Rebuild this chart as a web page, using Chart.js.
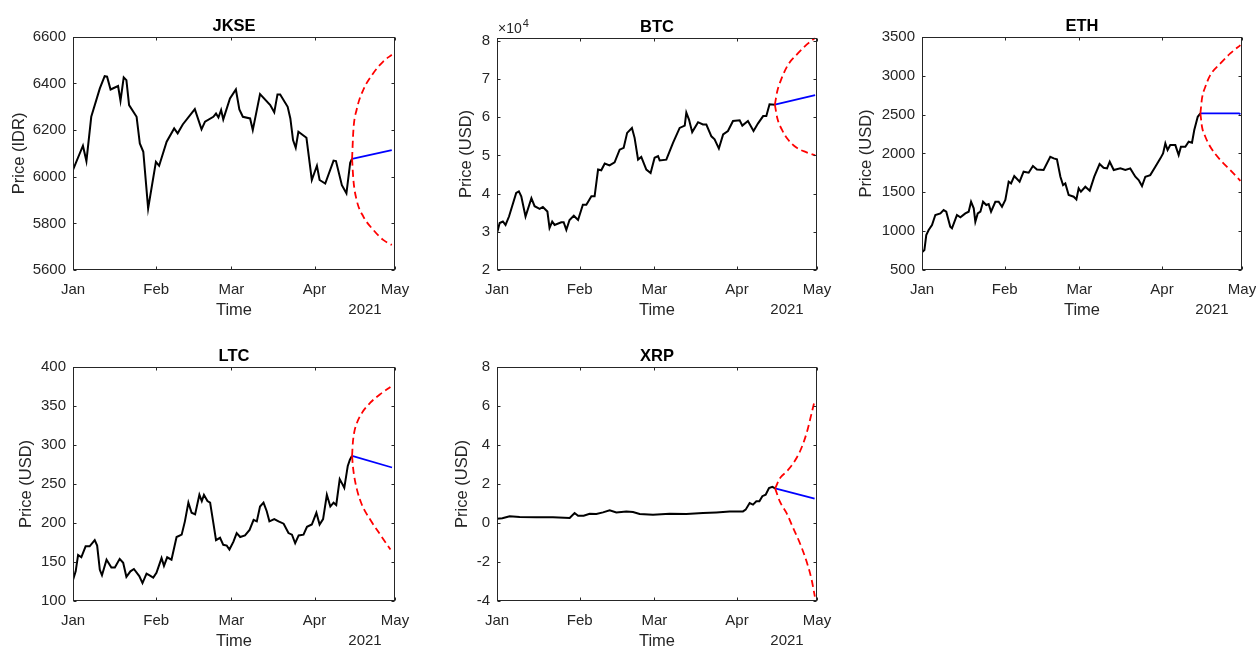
<!DOCTYPE html>
<html>
<head>
<meta charset="utf-8">
<title>Price forecast 2021</title>
<script src="https://cdn.jsdelivr.net/npm/chart.js@4.4.1/dist/chart.umd.min.js"></script>
<style>
  html, body { margin: 0; padding: 0; background: #fff; overflow: hidden; }
  #fig { position: relative; width: 1256px; height: 646px; overflow: hidden; background: #fff; }
  #fig canvas { position: absolute; }
</style>
</head>
<body>
<div id="fig">
  <canvas id="cJkse"></canvas>
  <canvas id="cBtc"></canvas>
  <canvas id="cEth"></canvas>
  <canvas id="cLtc"></canvas>
  <canvas id="cXrp"></canvas>
</div>
<script>
// eje de tiempo: dias desde el 1 de enero de 2021
const monthDays = [0, 31, 59, 90, 120];
const monthLabels = ['Jan', 'Feb', 'Mar', 'Apr', 'May'];

// JKSE
const jkseDays = [0, 3.7, 5, 6.8, 10, 11.8, 12.7, 14, 16.8, 17.7, 18.9, 19.9, 20.9, 23.7, 24.9, 26.2, 28, 30.9, 32.1, 34.9, 37.7, 39, 40.9, 45.4, 47.9, 49.2, 52.3, 53.3, 54.2, 55.2, 56, 58.5, 60.7, 62, 63.3, 66, 67, 69.7, 73.5, 75, 76.2, 77.2, 80, 81, 82, 83, 84, 87, 89, 90.9, 91.9, 94, 97.1, 98, 100.2, 101.9, 103.3, 104];
const jksePrice = [6029, 6133, 6067, 6257, 6379, 6431, 6429, 6374, 6389, 6326, 6426, 6414, 6307, 6257, 6143, 6107, 5864, 6064, 6047, 6150, 6207, 6186, 6224, 6290, 6203, 6236, 6257, 6271, 6254, 6286, 6246, 6336, 6374, 6289, 6257, 6250, 6200, 6354, 6307, 6276, 6353, 6353, 6300, 6250, 6157, 6124, 6193, 6167, 5986, 6047, 5986, 5971, 6069, 6067, 5964, 5929, 6060, 6077];
const jkseFcDays = [104, 104.5, 105.7, 108.2, 111.9, 115.6, 118.8];
const jkseUpper = [6077, 6201, 6287, 6373, 6444, 6494, 6523];
const jkseLower = [6077, 5986, 5900, 5829, 5772, 5729, 5707];
const jkseMeanDays = [104, 118.8];
const jkseMean = [6077, 6114];
const jkseTicks = [5600, 5800, 6000, 6200, 6400, 6600];

// BTC
const btcDays = [0, 1, 2.2, 3.2, 4.5, 7.2, 8.2, 9.1, 10.7, 12.9, 14.1, 16, 17.2, 18.9, 19.7, 20.7, 21.6, 24.1, 25, 26, 27.2, 28.8, 30.4, 32.2, 33.5, 35.4, 36.6, 37.9, 39.1, 40.4, 42.2, 44.1, 46, 47.5, 48.8, 50.6, 51.6, 52.9, 54.1, 56, 57.6, 59.1, 60.4, 61, 63.5, 66, 68.5, 70.4, 71, 72, 73.2, 75.4, 77.2, 78.5, 80.4, 81.6, 83.2, 84.8, 86.6, 88.5, 91, 92, 94.1, 96.2, 97.9, 99.8, 101, 102.2, 104.2];
const btcPrice = [29600, 32300, 32700, 31800, 34000, 40200, 40600, 39300, 34000, 38800, 36700, 36000, 36500, 35300, 31000, 32700, 31800, 32500, 32500, 30500, 33100, 34200, 33100, 37100, 37100, 39300, 39300, 46300, 46100, 47900, 47400, 48200, 51500, 52000, 55900, 57200, 54600, 48900, 49600, 46300, 45400, 49400, 49800, 48700, 48900, 53300, 57200, 57800, 61200, 59400, 56100, 58700, 58100, 58100, 55000, 54200, 51800, 55500, 56400, 59000, 59200, 57800, 59000, 56400, 58400, 60300, 60300, 63400, 63300];
const btcFcDays = [104.2, 105.1, 106.8, 109.2, 112.4, 116.1, 119.3];
const btcUpper = [63300, 66800, 70300, 73800, 76400, 79000, 80800];
const btcLower = [63300, 59800, 56800, 54100, 52000, 50800, 50000];
const btcMeanDays = [104.2, 119.3];
const btcMean = [63300, 65800];
const btcTicks = [20000, 30000, 40000, 50000, 60000, 70000, 80000];

// ETH
const ethDays = [0, 0.9, 1.6, 2.5, 3.75, 5, 6.9, 8.1, 9.1, 10.6, 11.25, 13.1, 14.4, 16.25, 17.5, 18.4, 19.4, 20, 20.9, 21.9, 22.9, 24.1, 25, 25.9, 27.5, 28.75, 30, 31.25, 32.5, 33.4, 34.6, 36.6, 38.1, 40, 41.6, 43.1, 45.6, 48.1, 49.4, 50.6, 51.9, 52.9, 53.75, 55, 56.9, 57.9, 58.75, 59.6, 61.25, 62.9, 64.6, 66.6, 68.1, 69.4, 70.4, 71.9, 74.4, 76.25, 78.1, 80, 81.25, 82.5, 83.75, 85.6, 87.5, 89.4, 90.4, 91.25, 92.1, 93.1, 95, 96.25, 97.1, 98.75, 100, 101.25, 102.1, 103.4, 104.4];
const ethPrice = [727, 757, 950, 1014, 1079, 1207, 1228, 1271, 1250, 1057, 1036, 1207, 1177, 1228, 1250, 1378, 1293, 1121, 1228, 1250, 1378, 1336, 1348, 1250, 1378, 1378, 1314, 1400, 1636, 1614, 1708, 1636, 1764, 1751, 1837, 1794, 1786, 1957, 1936, 1923, 1700, 1593, 1614, 1464, 1443, 1408, 1550, 1507, 1571, 1521, 1700, 1863, 1816, 1807, 1893, 1786, 1807, 1786, 1807, 1700, 1657, 1580, 1700, 1721, 1829, 1936, 2000, 2129, 2043, 2107, 2107, 1979, 2086, 2086, 2150, 2137, 2300, 2471, 2514];
const ethFcDays = [104.4, 105, 106.25, 108.1, 111.9, 115.6, 119.4];
const ethUpper = [2514, 2707, 2857, 3007, 3157, 3286, 3393];
const ethLower = [2514, 2343, 2214, 2086, 1914, 1786, 1648];
const ethMeanDays = [104.4, 118.9, 119.4];
const ethMean = [2514, 2514, 2503];
const ethTicks = [500, 1000, 1500, 2000, 2500, 3000, 3500];

// LTC
const ltcDays = [0, 1, 1.9, 3.1, 4.7, 6.2, 8.1, 9, 10, 10.8, 12.5, 14.3, 15.6, 17.4, 18.7, 19.9, 21.4, 22.7, 24.7, 25.9, 27.4, 28.4, 29.9, 31.1, 33, 33.9, 35.1, 36.7, 38.6, 40.5, 41.7, 43, 44.2, 45.5, 47.1, 48, 48.8, 50.1, 51.1, 52.3, 53.3, 54.8, 56, 57.3, 58.3, 59.8, 61, 62.3, 64.1, 65.8, 67.3, 68.5, 69.7, 71, 72.2, 73.2, 75, 76.6, 78.5, 80.3, 81.6, 82.8, 84.1, 85.9, 87.2, 89, 90.7, 91.9, 93.2, 94.6, 95.9, 97.1, 98.1, 99.4, 100.2, 101.1, 102.4, 103.2, 104];
const ltcPrice = [127, 138, 159, 156, 170, 170, 178, 171, 140, 133, 153, 143, 143, 154, 149, 131, 138, 141, 132, 123, 135, 133, 130, 136, 155, 145, 156, 153, 182, 185, 202, 226, 213, 211, 236, 228, 236, 228, 226, 200, 178, 181, 172, 171, 166, 176, 187, 182, 184, 191, 204, 202, 221, 226, 215, 202, 205, 202, 199, 187, 185, 174, 184, 185, 195, 198, 213, 198, 205, 236, 221, 226, 223, 256, 251, 245, 273, 281, 286];
const ltcFcDays = [104, 104.3, 104.8, 105.8, 107.7, 110.8, 114.5, 118.3];
const ltcUpper = [286, 303, 316, 328, 341, 354, 365, 374];
const ltcLower = [286, 273, 260, 243, 223, 204, 185, 166];
const ltcMeanDays = [104, 118.9];
const ltcMean = [286, 271];
const ltcTicks = [100, 150, 200, 250, 300, 350, 400];

// XRP
const xrpDays = [0, 2, 4.75, 8.5, 14.75, 21, 27.25, 29.1, 30.4, 32.5, 34.75, 37.25, 39.75, 42.25, 44.75, 48.5, 51, 53.5, 58.5, 64.75, 71, 77.25, 82.25, 87.25, 92.25, 93.25, 94.75, 96, 97.25, 98.4, 99.5, 100.75, 102, 103.25, 104.3];
const xrpPrice = [0.22, 0.24, 0.34, 0.30, 0.29, 0.29, 0.25, 0.51, 0.37, 0.37, 0.47, 0.46, 0.54, 0.65, 0.54, 0.58, 0.56, 0.46, 0.42, 0.47, 0.46, 0.51, 0.54, 0.58, 0.59, 0.68, 1.02, 0.94, 1.11, 1.11, 1.37, 1.45, 1.79, 1.85, 1.77];
const xrpFcDays = [104.3, 106.1, 108.6, 111.1, 113.6, 116.1, 118, 119.2];
const xrpUpper = [1.77, 2.29, 2.63, 3.06, 3.66, 4.60, 5.63, 6.31];
const xrpLower = [1.77, 1.09, 0.50, -0.27, -1.04, -1.98, -2.92, -3.78];
const xrpMeanDays = [104.3, 119.1];
const xrpMean = [1.77, 1.25];
const xrpTicks = [-4, -2, 0, 2, 4, 6, 8];

const FONT = "'Liberation Sans', Arial, Helvetica, sans-serif";
Chart.defaults.font.family = FONT;
Chart.defaults.color = '#262626';

// caja estilo MATLAB, marcas hacia adentro, año y exponente
const matlabAxes = {
  id: 'matlabAxes',
  afterDraw(chart, args, opts) {
    const { ctx, chartArea: a, scales: { x, y } } = chart;
    const L = Math.round(a.left) + 0.5, R = Math.round(a.right) - 0.5;
    const T = Math.round(a.top) + 0.5, B = Math.round(a.bottom) - 0.5;
    ctx.save();
    ctx.strokeStyle = '#262626';
    ctx.lineWidth = 1;
    ctx.strokeRect(L, T, R - L, B - T);
    ctx.beginPath();
    x.ticks.forEach(t => {
      const px = Math.round(x.getPixelForValue(t.value)) + 0.5;
      ctx.moveTo(px, B); ctx.lineTo(px, B - 3);
      ctx.moveTo(px, T); ctx.lineTo(px, T + 3);
    });
    y.ticks.forEach(t => {
      const py = Math.round(y.getPixelForValue(t.value)) + 0.5;
      ctx.moveTo(L, py); ctx.lineTo(L + 3, py);
      ctx.moveTo(R, py); ctx.lineTo(R - 3, py);
    });
    ctx.stroke();

    ctx.fillStyle = '#262626';
    ctx.textAlign = 'center';
    ctx.textBaseline = 'middle';
    ctx.font = '15px ' + FONT;
    ctx.fillText(opts.year, a.right - 30, x.bottom - 10);

    if (opts.exponent) {
      ctx.textAlign = 'left';
      ctx.textBaseline = 'alphabetic';
      ctx.font = '14px ' + FONT;
      ctx.fillText('\u00d710', a.left + 1, a.top - 5);
      const w = ctx.measureText('\u00d710').width;
      ctx.font = '11px ' + FONT;
      ctx.fillText(opts.exponent, a.left + 1 + w + 1, a.top - 11);
    }
    ctx.restore();
  }
};

function pts(xs, ys) {
  return xs.map((v, i) => ({ x: v, y: ys[i] }));
}

function crearSubplot(id, pos, s) {
  const cv = document.getElementById(id);
  const padL = 75, padT = 37, padB = 50, padR = 30;
  cv.width = pos.w + padL + padR;
  cv.height = pos.h + padT + padB;
  cv.style.left = (pos.x - padL) + 'px';
  cv.style.top = (pos.y - padT) + 'px';

  return new Chart(cv, {
    type: 'line',
    data: {
      datasets: [
        { data: pts(s.fcDays, s.upper), borderColor: '#ff0000', borderDash: [7, 4], cubicInterpolationMode: 'monotone' },
        { data: pts(s.fcDays, s.lower), borderColor: '#ff0000', borderDash: [7, 4], cubicInterpolationMode: 'monotone' },
        { data: pts(s.meanDays, s.mean), borderColor: '#0000ff' },
        { data: pts(s.days, s.price), borderColor: '#000000', borderWidth: 2 }
      ]
    },
    options: {
      responsive: false,
      animation: false,
      elements: {
        point: { radius: 0 },
        line: { borderWidth: 1.8, tension: 0, fill: false }
      },
      layout: { padding: { left: 0, top: 0, right: padR, bottom: 0 } },
      plugins: {
        legend: { display: false },
        tooltip: { enabled: false },
        title: {
          display: true,
          text: s.title,
          fullSize: false,
          color: '#000000',
          font: { size: 16.5, weight: 'bold' },
          padding: { top: padT - 20, bottom: 0 }
        },
        matlabAxes: { year: '2021', exponent: s.exponent }
      },
      scales: {
        x: {
          type: 'linear',
          min: monthDays[0],
          max: monthDays[monthDays.length - 1],
          afterBuildTicks: sc => { sc.ticks = monthDays.map(v => ({ value: v })); },
          afterFit: sc => { sc.height = padB; },
          grid: { display: false, drawTicks: false },
          border: { display: false },
          ticks: {
            padding: 11,
            maxRotation: 0,
            autoSkip: false,
            font: { size: 15 },
            callback: v => monthLabels[monthDays.indexOf(v)]
          },
          title: { display: true, text: 'Time', font: { size: 16.5 }, padding: 0 }
        },
        y: {
          min: s.ticks[0],
          max: s.yMax,
          afterBuildTicks: sc => { sc.ticks = s.ticks.map(v => ({ value: v })); },
          afterFit: sc => { sc.width = padL; },
          grid: { display: false, drawTicks: false },
          border: { display: false },
          ticks: {
            padding: 7,
            font: { size: 15 },
            callback: v => String(s.scale ? v / s.scale : v)
          },
          title: {
            display: true,
            text: s.ylabel,
            font: { size: 16.5 },
            padding: { top: s.labelPad, bottom: 0 }
          }
        }
      }
    },
    plugins: [matlabAxes]
  });
}

crearSubplot('cJkse', { x: 73, y: 37, w: 322, h: 233 }, {
  title: 'JKSE', ylabel: 'Price (IDR)', labelPad: 12,
  days: jkseDays, price: jksePrice, fcDays: jkseFcDays, upper: jkseUpper, lower: jkseLower,
  meanDays: jkseMeanDays, mean: jkseMean, ticks: jkseTicks, yMax: 6600
});
crearSubplot('cBtc', { x: 497, y: 38, w: 320, h: 232 }, {
  title: 'BTC', ylabel: 'Price (USD)', labelPad: 35, exponent: '4', scale: 10000,
  days: btcDays, price: btcPrice, fcDays: btcFcDays, upper: btcUpper, lower: btcLower,
  meanDays: btcMeanDays, mean: btcMean, ticks: btcTicks, yMax: 80800
});
crearSubplot('cEth', { x: 922, y: 37, w: 320, h: 233 }, {
  title: 'ETH', ylabel: 'Price (USD)', labelPad: 10,
  days: ethDays, price: ethPrice, fcDays: ethFcDays, upper: ethUpper, lower: ethLower,
  meanDays: ethMeanDays, mean: ethMean, ticks: ethTicks, yMax: 3500
});
crearSubplot('cLtc', { x: 73, y: 367, w: 322, h: 234 }, {
  title: 'LTC', ylabel: 'Price (USD)', labelPad: 19,
  days: ltcDays, price: ltcPrice, fcDays: ltcFcDays, upper: ltcUpper, lower: ltcLower,
  meanDays: ltcMeanDays, mean: ltcMean, ticks: ltcTicks, yMax: 400
});
crearSubplot('cXrp', { x: 497, y: 367, w: 320, h: 234 }, {
  title: 'XRP', ylabel: 'Price (USD)', labelPad: 31,
  days: xrpDays, price: xrpPrice, fcDays: xrpFcDays, upper: xrpUpper, lower: xrpLower,
  meanDays: xrpMeanDays, mean: xrpMean, ticks: xrpTicks, yMax: 8
});
</script>
</body>
</html>
